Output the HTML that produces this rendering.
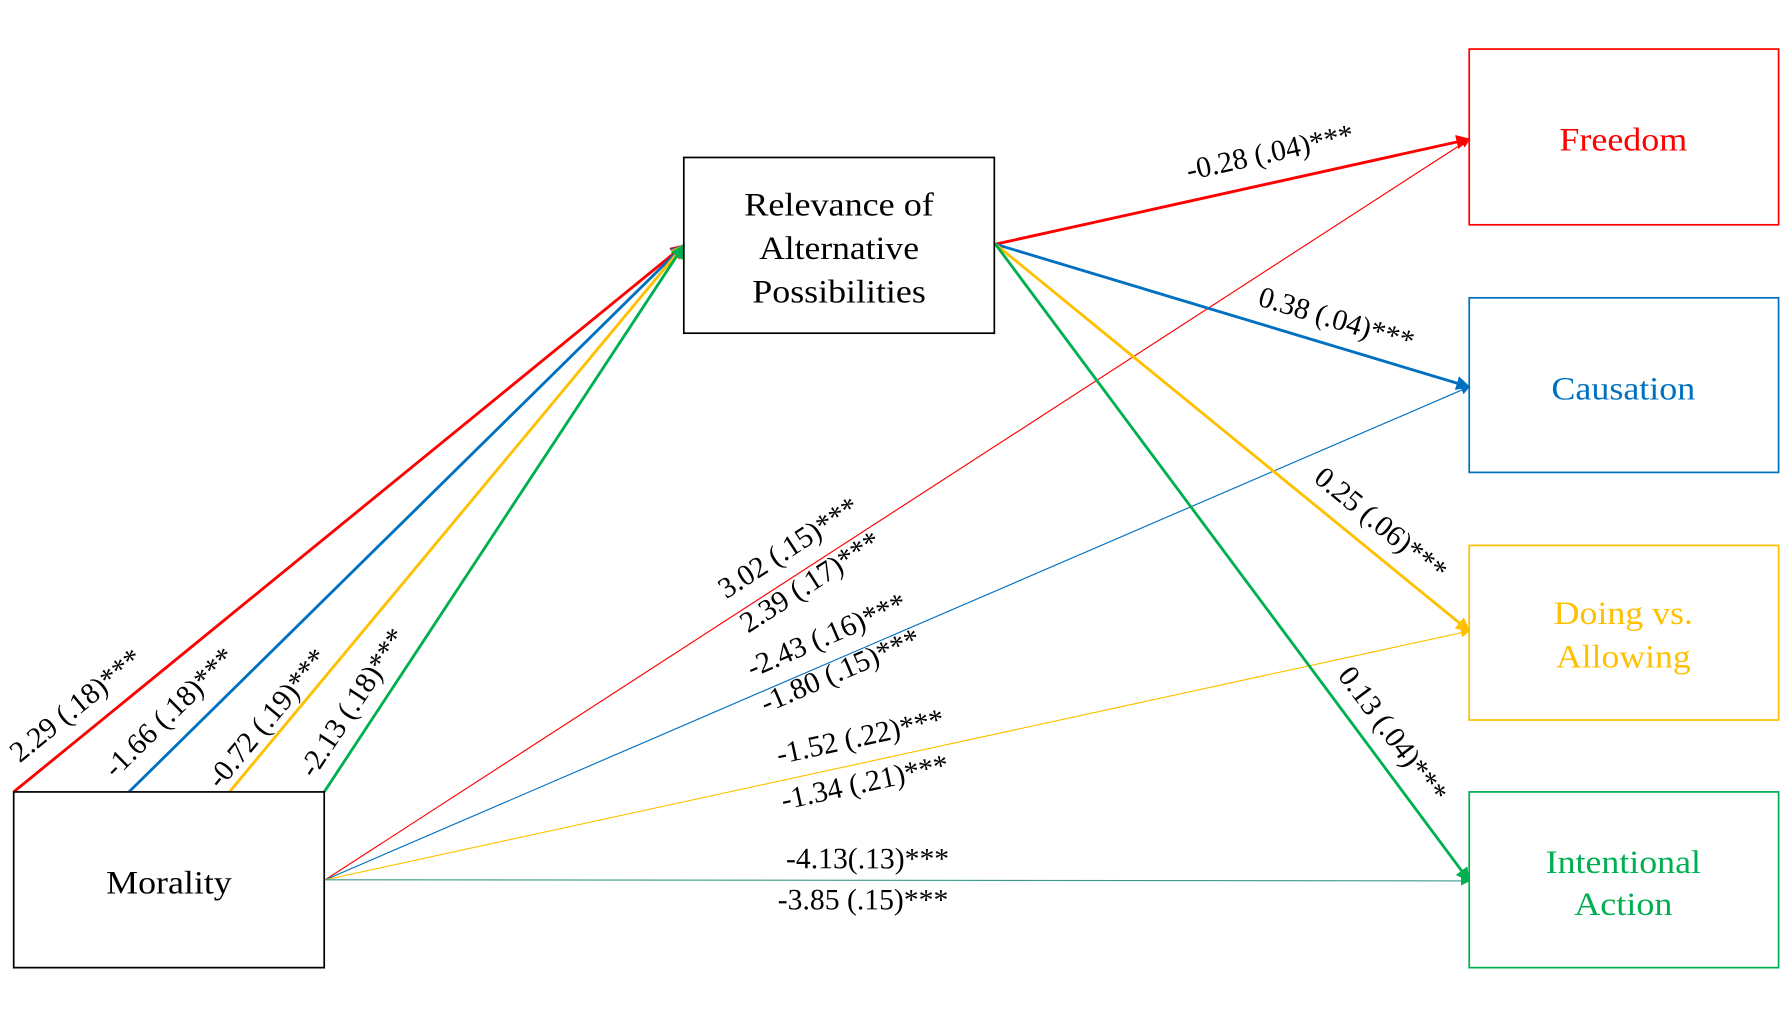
<!DOCTYPE html>
<html><head><meta charset="utf-8"><style>
html,body{margin:0;padding:0;background:#fff;}
svg{display:block;}
text{font-family:"Liberation Serif",serif;}
</style></head><body>
<svg id="chart" width="1790" height="1011" viewBox="0 0 1568 886" preserveAspectRatio="none" xmlns="http://www.w3.org/2000/svg">
<defs>
<marker id="ar-red" viewBox="0 0 10 10" refX="9" refY="5" markerWidth="5" markerHeight="5" orient="auto"><path d="M0,0L10,5L0,10z" fill="#ff0000"/></marker>
<marker id="ar-blue" viewBox="0 0 10 10" refX="9" refY="5" markerWidth="5" markerHeight="5" orient="auto"><path d="M0,0L10,5L0,10z" fill="#0070c0"/></marker>
<marker id="ar-yellow" viewBox="0 0 10 10" refX="9" refY="5" markerWidth="5" markerHeight="5" orient="auto"><path d="M0,0L10,5L0,10z" fill="#ffc000"/></marker>
<marker id="ar-green" viewBox="0 0 10 10" refX="9" refY="5" markerWidth="5" markerHeight="5" orient="auto"><path d="M0,0L10,5L0,10z" fill="#00b050"/></marker>
<marker id="ar-red-s" viewBox="0 0 10 10" refX="9" refY="5" markerWidth="8" markerHeight="8" orient="auto"><path d="M0,0L10,5L0,10z" fill="#ff0000"/></marker>
<marker id="ar-blue-s" viewBox="0 0 10 10" refX="9" refY="5" markerWidth="8" markerHeight="8" orient="auto"><path d="M0,0L10,5L0,10z" fill="#0070c0"/></marker>
<marker id="ar-yellow-s" viewBox="0 0 10 10" refX="9" refY="5" markerWidth="8" markerHeight="8" orient="auto"><path d="M0,0L10,5L0,10z" fill="#ffc000"/></marker>
<marker id="ar-green-s" viewBox="0 0 10 10" refX="9" refY="5" markerWidth="8" markerHeight="8" orient="auto"><path d="M0,0L10,5L0,10z" fill="#00b050"/></marker>
</defs>
<g id="paths"></g>
<g id="labels"></g>
<rect x="599" y="138" width="272" height="154" fill="none" stroke="#000" stroke-width="1.5"/>
<text x="735" y="189" font-size="29" text-anchor="middle" textLength="166" lengthAdjust="spacingAndGlyphs">Relevance of</text>
<text x="735" y="227" font-size="29" text-anchor="middle" textLength="140" lengthAdjust="spacingAndGlyphs">Alternative</text>
<text x="735" y="265" font-size="29" text-anchor="middle" textLength="152" lengthAdjust="spacingAndGlyphs">Possibilities</text>
<rect x="12" y="694" width="272" height="154" fill="none" stroke="#000" stroke-width="1.5"/>
<text x="148" y="783" font-size="29" text-anchor="middle" textLength="110" lengthAdjust="spacingAndGlyphs">Morality</text>
<rect x="1287" y="43" width="271" height="154" fill="none" stroke="#ff0000" stroke-width="1.5"/>
<text x="1422" y="132" font-size="29" text-anchor="middle" fill="#ff0000" textLength="112" lengthAdjust="spacingAndGlyphs">Freedom</text>
<rect x="1287" y="261" width="271" height="153" fill="none" stroke="#0070c0" stroke-width="1.5"/>
<text x="1422" y="350" font-size="29" text-anchor="middle" fill="#0070c0" textLength="126" lengthAdjust="spacingAndGlyphs">Causation</text>
<rect x="1287" y="478" width="271" height="153" fill="none" stroke="#ffc000" stroke-width="1.5"/>
<text x="1422" y="547" font-size="29" text-anchor="middle" fill="#ffc000" textLength="122" lengthAdjust="spacingAndGlyphs">Doing vs.</text>
<text x="1422" y="585" font-size="29" text-anchor="middle" fill="#ffc000" textLength="118" lengthAdjust="spacingAndGlyphs">Allowing</text>
<rect x="1287" y="694" width="271" height="154" fill="none" stroke="#00b050" stroke-width="1.5"/>
<text x="1422" y="765" font-size="29" text-anchor="middle" fill="#00b050" textLength="136" lengthAdjust="spacingAndGlyphs">Intentional</text>
<text x="1422" y="802" font-size="29" text-anchor="middle" fill="#00b050" textLength="86" lengthAdjust="spacingAndGlyphs">Action</text>
</svg>
<script>
// Path coefficient labels (data)
const aPathLabels = ["2.29 (.18)***", "-1.66 (.18)***", "-0.72 (.19)***", "-2.13 (.18)***"];
const bPathLabels = ["-0.28 (.04)***", "0.38 (.04)***", "0.25 (.06)***", "0.13 (.04)***"];
const totalLabels = ["3.02 (.15)***", "-2.43 (.16)***", "-1.52 (.22)***", "-4.13(.13)***"];
const directLabels = ["2.39 (.17)***", "-1.80 (.15)***", "-1.34 (.21)***", "-3.85 (.15)***"];
const outcomes = ["freedom", "causation", "doing-allowing", "intentional-action"];

const colors = ["#ff0000", "#0070c0", "#ffc000", "#00b050"];
const mk = ["red", "blue", "yellow", "green"];
const NS = "http://www.w3.org/2000/svg";
const gP = document.getElementById("paths");
const gL = document.getElementById("labels");
const aStartX = [12, 113, 201, 284];
const targetY = [122, 339, 553, 772];
const aLabelPos = [[68, 620], [150, 626], [236, 631], [311, 617]];
const bLabelPos = [[1113, 136], [1170, 282], [1208, 461], [1218, 645]];
const totPos = [[692, 482], [725, 559], [754, 648], [760, 755]];
const dirPos = [[711, 512], [737, 590], [758, 688], [756, 791]];

function line(x1, y1, x2, y2, c, w, m) {
  const l = document.createElementNS(NS, "line");
  l.setAttribute("x1", x1); l.setAttribute("y1", y1);
  l.setAttribute("x2", x2); l.setAttribute("y2", y2);
  l.setAttribute("stroke", c); l.setAttribute("stroke-width", w);
  l.setAttribute("marker-end", "url(#" + m + ")");
  gP.appendChild(l);
  return l;
}
function label(txt, x, y, ang) {
  const t = document.createElementNS(NS, "text");
  t.setAttribute("x", x); t.setAttribute("y", y);
  t.setAttribute("font-size", "26");
  t.setAttribute("text-anchor", "middle");
  t.setAttribute("dominant-baseline", "middle");
  t.setAttribute("transform", "rotate(" + ang + " " + x + " " + y + ")");
  t.textContent = txt;
  gL.appendChild(t);
  return t;
}
const deg = (dx, dy) => Math.atan2(dy, dx) * 180 / Math.PI;
for (let i = 0; i < 4; i++) {
  let el = line(aStartX[i], 694, 599, 215, colors[i], 2.5, "ar-" + mk[i]);
  
  
  el = label(aPathLabels[i], aLabelPos[i][0], aLabelPos[i][1], deg(599 - aStartX[i], 215 - 694));
  
  
  el = line(872, 214, 1287, targetY[i], colors[i], 2.5, "ar-" + mk[i]);
  
  
  el = label(bPathLabels[i], bLabelPos[i][0], bLabelPos[i][1], deg(415, targetY[i] - 214));
  
  
  el = line(285, 771, 1287, targetY[i], i === 3 ? "#3a9a8a" : colors[i], 1, "ar-" + mk[i] + "-s");
  
  
  const ang = deg(1002, targetY[i] - 771);
  el = label(totalLabels[i], totPos[i][0], totPos[i][1], ang);
  
  
  el = label(directLabels[i], dirPos[i][0], dirPos[i][1], ang);
  
  
}
</script>
</body></html>
